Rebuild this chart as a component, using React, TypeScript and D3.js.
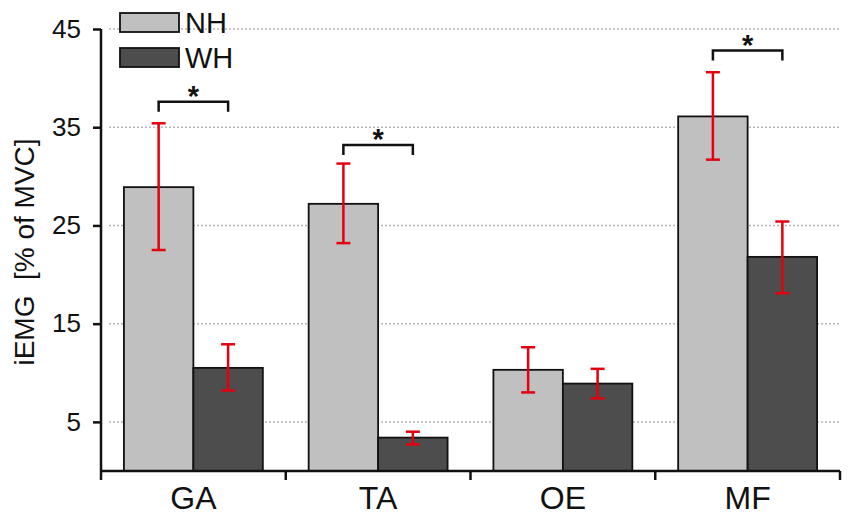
import { useEffect, useRef } from "react"
import * as d3 from "d3"

const muscles = ["GA", "TA", "OE", "MF"]
const groups = ["NH", "WH"]
const nhMean = [28.9, 27.2, 10.3, 36.1]
const whMean = [10.5, 3.4, 8.9, 21.8]
const nhLow = [22.5, 23.2, 8.0, 31.7]
const nhHigh = [35.4, 31.3, 12.6, 40.6]
const whLow = [8.2, 2.7, 7.4, 18.1]
const whHigh = [12.9, 4.0, 10.4, 25.4]
const yTicks = [5, 15, 25, 35, 45]
// significance brackets: muscle + height of bracket in axis units
const sigMuscles = ["GA", "TA", "MF"]
const sigLevels = [37.6, 33.2, 42.8]

const groupColors = ["#c0c0c0", "#4d4d4d"]

export default function App() {
  const svgRef = useRef<SVGSVGElement>(null)

  useEffect(() => {
    document.body.style.margin = "0"
    if (!svgRef.current) return
    const svg = d3.select(svgRef.current)
    svg.selectAll("*").remove()

    const left = 101
    const right = 840
    const top = 29
    const bottom = 471
    const font = "Liberation Sans, Arial, sans-serif"

    const y = d3.scaleLinear().domain([0, 45]).range([bottom, top])
    const x0 = d3.scaleBand().domain(muscles).range([left, right]).paddingInner(0.248).paddingOuter(0.124)
    const x1 = d3.scaleBand().domain(groups).range([0, x0.bandwidth()])

    // dotted gridlines
    svg
      .append("g")
      .selectAll("line")
      .data(yTicks)
      .join("line")
      .attr("x1", left + 8)
      .attr("x2", right)
      .attr("y1", (d) => y(d))
      .attr("y2", (d) => y(d))
      .attr("stroke", "#b4b4bc")
      .attr("stroke-width", 1.5)
      .attr("stroke-dasharray", "2,2")

    const rows = muscles.map((m, i) => ({
      muscle: m,
      bars: [
        { group: "NH", mean: nhMean[i], lo: nhLow[i], hi: nhHigh[i] },
        { group: "WH", mean: whMean[i], lo: whLow[i], hi: whHigh[i] },
      ],
    }))

    const barGroups = svg
      .append("g")
      .selectAll("g")
      .data(rows)
      .join("g")
      .attr("transform", (d) => `translate(${x0(d.muscle)},0)`)

    barGroups
      .selectAll("rect")
      .data((d) => d.bars)
      .join("rect")
      .attr("x", (d) => x1(d.group) || 0)
      .attr("y", (d) => y(d.mean))
      .attr("width", x1.bandwidth())
      .attr("height", (d) => y(0) - y(d.mean))
      .attr("fill", (d) => groupColors[groups.indexOf(d.group)])
      .attr("stroke", "#111")
      .attr("stroke-width", 1.8)

    // red error bars
    const err = barGroups
      .selectAll("g.err")
      .data((d) => d.bars)
      .join("g")
      .attr("class", "err")
      .attr("transform", (d) => `translate(${(x1(d.group) || 0) + x1.bandwidth() / 2},0)`)
      .attr("stroke", "#e3000f")
      .attr("stroke-width", 2.5)

    err.append("line").attr("y1", (d) => y(d.lo)).attr("y2", (d) => y(d.hi))
    err.append("line").attr("x1", -7).attr("x2", 7).attr("y1", (d) => y(d.hi)).attr("y2", (d) => y(d.hi))
    err.append("line").attr("x1", -7).attr("x2", 7).attr("y1", (d) => y(d.lo)).attr("y2", (d) => y(d.lo))

    // significance brackets
    const sig = svg
      .append("g")
      .selectAll("g")
      .data(sigMuscles.map((m, i) => ({ muscle: m, level: sigLevels[i] })))
      .join("g")
    sig
      .append("path")
      .attr("d", (d) => {
        const a = (x0(d.muscle) || 0) + (x1("NH") || 0) + x1.bandwidth() / 2
        const b = (x0(d.muscle) || 0) + (x1("WH") || 0) + x1.bandwidth() / 2
        const yy = y(d.level)
        return `M${a},${yy + 10}V${yy}H${b}V${yy + 10}`
      })
      .attr("fill", "none")
      .attr("stroke", "#111")
      .attr("stroke-width", 2.5)
    sig
      .append("text")
      .attr("x", (d) => (x0(d.muscle) || 0) + x0.bandwidth() / 2)
      .attr("y", (d) => y(d.level) + 4)
      .attr("text-anchor", "middle")
      .attr("font-family", font)
      .attr("font-size", 29)
      .attr("font-weight", "bold")
      .attr("fill", "#111")
      .text("*")

    // y axis
    const yAxis = svg
      .append("g")
      .attr("transform", `translate(${left},0)`)
      .call(d3.axisLeft(y).tickValues(yTicks).tickSize(8).tickPadding(12))
    yAxis.select(".domain").attr("stroke", "#111").attr("stroke-width", 2.5).attr("d", `M0,${top}V${bottom}`)
    yAxis.selectAll(".tick line").attr("stroke", "#111").attr("stroke-width", 2.5)
    yAxis
      .selectAll(".tick text")
      .attr("font-family", font)
      .attr("font-size", 26)
      .attr("fill", "#111")

    // x axis
    const xAxisG = svg.append("g").attr("transform", `translate(0,${bottom})`)
    xAxisG
      .append("line")
      .attr("x1", left)
      .attr("x2", right)
      .attr("stroke", "#111")
      .attr("stroke-width", 2.5)
    const bounds = muscles.map((m) => (x0(m) || 0) - (x0.step() * x0.paddingInner()) / 2)
    bounds.push(right)
    xAxisG
      .selectAll("line.tick")
      .data(bounds)
      .join("line")
      .attr("class", "tick")
      .attr("x1", (d) => d)
      .attr("x2", (d) => d)
      .attr("y1", 0)
      .attr("y2", 9)
      .attr("stroke", "#111")
      .attr("stroke-width", 2.5)
    xAxisG
      .selectAll("text")
      .data(muscles)
      .join("text")
      .attr("x", (d) => (x0(d) || 0) + x0.bandwidth() / 2)
      .attr("y", 38)
      .attr("text-anchor", "middle")
      .attr("font-family", font)
      .attr("font-size", 32)
      .attr("fill", "#111")
      .text((d) => d)

    // y label
    svg
      .append("text")
      .attr("transform", `translate(34,252) rotate(-90)`)
      .attr("text-anchor", "middle")
      .attr("font-family", font)
      .attr("font-size", 28)
      .attr("fill", "#111")
      .style("white-space", "pre")
      .text("iEMG  [% of MVC]")

    // legend
    const legend = svg
      .append("g")
      .selectAll("g")
      .data(groups)
      .join("g")
      .attr("transform", (_d, i) => `translate(120,${13 + i * 35})`)
    legend
      .append("rect")
      .attr("width", 59)
      .attr("height", 19)
      .attr("fill", (_d, i) => groupColors[i])
      .attr("stroke", "#111")
      .attr("stroke-width", 1.8)
    legend
      .append("text")
      .attr("x", 65)
      .attr("y", 20)
      .attr("font-family", font)
      .attr("font-size", 29)
      .attr("fill", "#111")
      .text((d) => d)
  }, [])

  return <svg ref={svgRef} width={850} height={529} style={{ display: "block", background: "#fff" }} />
}
